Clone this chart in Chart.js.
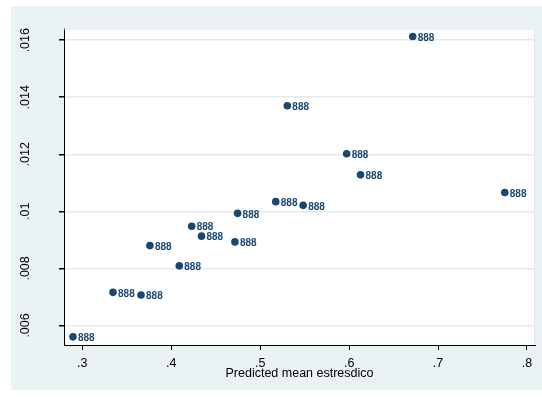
<!DOCTYPE html>
<html>
<head>
<meta charset="utf-8">
<script src="https://cdn.jsdelivr.net/npm/chart.js@4"></script>
<style>
  html, body { margin: 0; padding: 0; background: #fff; }
  #wrap { width: 542px; height: 397px; }
</style>
</head>
<body>
<div id="wrap"><canvas id="c" width="542" height="397"></canvas></div>
<script>
// predicted mean (x) vs. value (y), one marker per group
const xVals = [0.2895, 0.3345, 0.366, 0.376, 0.409, 0.423, 0.434, 0.4716, 0.4746, 0.5175, 0.5483, 0.5305, 0.5972, 0.6128, 0.6715, 0.775];
const yVals = [0.00560, 0.00716, 0.00707, 0.00880, 0.00809, 0.00948, 0.00913, 0.00893, 0.00993, 0.01034, 0.01021, 0.01370, 0.01202, 0.01128, 0.01613, 0.01066];
const markerLabels = ['888', '888', '888', '888', '888', '888', '888', '888', '888', '888', '888', '888', '888', '888', '888', '888'];
const xTicks = [0.3, 0.4, 0.5, 0.6, 0.7, 0.8];
const yTicks = [0.006, 0.008, 0.010, 0.012, 0.014, 0.016];
const xTitle = 'Predicted mean estresdico';

const navy = '#1a476f';
const bg = '#eaf2f3';

const fmt = v => {
  let s = String(+v.toFixed(4));
  return s.replace(/^0\./, '.');
};

// outer gray-blue panel and light frame on top/right
const panel = {
  id: 'panel',
  beforeDraw(chart) {
    const { ctx, chartArea: a } = chart;
    ctx.save();
    ctx.fillStyle = bg;
    ctx.fillRect(11, 6, 531, 384);
    ctx.fillStyle = '#fff';
    ctx.fillRect(a.left, a.top, a.right - a.left, a.bottom - a.top);
    ctx.restore();
  },
  afterDatasetsDraw(chart) {
    const { ctx, chartArea: a } = chart;
    ctx.save();
    ctx.strokeStyle = '#dfe6e8';
    ctx.lineWidth = 1;
    ctx.beginPath();
    ctx.moveTo(a.left, a.top + 0.5);
    ctx.lineTo(a.right - 0.5, a.top + 0.5);
    ctx.lineTo(a.right - 0.5, a.bottom);
    ctx.stroke();
    // marker labels
    const meta = chart.getDatasetMeta(0);
    ctx.fillStyle = navy;
    ctx.font = 'bold 10px "Liberation Sans", Arial, sans-serif';
    ctx.textBaseline = 'middle';
    ctx.textAlign = 'left';
    meta.data.forEach((pt, i) => {
      ctx.fillText(markerLabels[i], pt.x + 5, pt.y + 1.5);
    });
    ctx.restore();
  }
};

new Chart(document.getElementById('c'), {
  type: 'scatter',
  data: {
    datasets: [{
      data: xVals.map((x, i) => ({ x, y: yVals[i] })),
      backgroundColor: navy,
      borderColor: navy,
      pointRadius: 3.8,
      pointBorderWidth: 0,
    }]
  },
  options: {
    responsive: false,
    animation: false,
    devicePixelRatio: 1,
    layout: { padding: { left: 0, top: 21, right: 7, bottom: 0 } },
    plugins: { legend: { display: false }, tooltip: { enabled: false } },
    scales: {
      x: {
        type: 'linear', min: 0.2794, max: 0.809,
        afterBuildTicks: s => { s.ticks = xTicks.map(v => ({ value: v })); },
        afterFit: s => { s.height = 52; },
        ticks: {
          color: '#000', padding: 6, maxRotation: 0,
          font: { family: '"Liberation Sans", Arial, sans-serif', size: 12.5 },
          callback: v => fmt(v)
        },
        grid: { drawOnChartArea: false, drawTicks: true, tickLength: 5, tickColor: '#000' },
        border: { color: '#000', width: 1 },
        title: {
          display: true, text: xTitle, color: '#000', padding: { top: 0, bottom: 16 },
          font: { family: '"Liberation Sans", Arial, sans-serif', size: 12.5 }
        }
      },
      y: {
        type: 'linear', min: 0.005315, max: 0.01641,
        afterBuildTicks: s => { s.ticks = yTicks.map(v => ({ value: v })); },
        afterFit: s => { s.width = 64; },
        ticks: {
          color: '#000', padding: 21, minRotation: 90, maxRotation: 90,
          crossAlign: 'center',
          font: { family: '"Liberation Sans", Arial, sans-serif', size: 12.5 },
          callback: v => fmt(v)
        },
        grid: { color: '#e1eaed', lineWidth: 1.5, drawTicks: true, tickLength: 5, tickColor: '#000' },
        border: { color: '#000', width: 1 }
      }
    }
  },
  plugins: [panel]
});
</script>
</body>
</html>
